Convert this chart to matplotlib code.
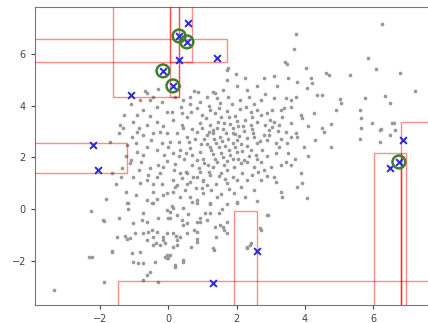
import numpy as np
import matplotlib
matplotlib.use("Agg")
import matplotlib.pyplot as plt
from matplotlib.patches import Rectangle

# gray sample points (x, y)
points = [
    (6.25, 7.16), (3.73, 6.77), (3.68, 6.19), (5.84, 5.84), (6.08, 5.42), (6.78, 5.26),
    (7.22, 4.56), (3.41, 5.69), (3.47, 5.61), (4.03, 5.45), (4.61, 5.26), (4.70, 5.18),
    (5.31, 5.18), (1.74, 5.45), (1.71, 4.99), (2.80, 5.07), (3.09, 5.14), (3.50, 5.07),
    (3.76, 4.91), (4.17, 5.07), (4.20, 4.87), (4.06, 4.68), (3.18, 4.76), (2.30, 4.60),
    (4.35, 4.41), (4.49, 4.41), (5.02, 4.26), (5.05, 4.10), (5.75, 4.29), (6.34, 4.37),
    (6.49, 4.10), (5.61, 3.83), (4.90, 3.83), (4.76, 3.29), (4.49, 3.13), (4.55, 2.98),
    (5.64, 3.52), (5.96, 3.33), (6.22, 3.09), (5.64, 3.13), (5.61, 2.71), (6.19, 2.59),
    (6.60, 3.33), (6.63, 3.06), (4.76, 2.40), (3.97, 2.40), (3.73, 2.94), (3.76, 2.79),
    (3.88, 3.64), (3.91, 3.52), (3.59, 3.95), (3.29, 3.83), (3.38, 3.91), (3.09, 4.29),
    (3.44, 4.29), (3.59, 4.22), (3.73, 4.33), (2.71, 4.22), (2.59, 3.83), (2.71, 3.64),
    (2.36, 4.33), (2.27, 3.95), (2.42, 3.75), (2.45, 3.56), (2.42, 3.25), (2.88, 3.71),
    (3.03, 3.83), (3.09, 3.37), (3.03, 3.17), (2.94, 3.06), (3.32, 3.56), (3.24, 3.25),
    (3.59, 3.33), (3.44, 2.98), (3.59, 2.79), (2.80, 2.86), (2.88, 2.67), (3.15, 2.55),
    (3.24, 2.40), (3.47, 2.55), (2.50, 2.79), (2.59, 2.55), (2.42, 2.28),
    (1.42, 1.82), (1.63, 1.70), (1.54, 1.39), (1.71, 1.51), (1.92, 1.62), (2.12, 1.78),
    (2.30, 1.82), (2.50, 1.62), (2.71, 1.82), (2.80, 1.51), (3.00, 1.62), (3.29, 1.70),
    (3.44, 1.82), (3.59, 1.70), (3.88, 1.39), (3.91, 1.01), (3.76, 0.85), (3.29, 0.66),
    (3.32, 0.46), (4.06, 0.43), (2.88, -0.23), (2.71, -0.81), (2.30, -1.47), (2.42, -1.32),
    (2.00, 0.27), (1.92, 0.62), (2.12, 0.85), (2.30, 1.12), (2.50, 0.74), (2.71, 1.12),
    (3.09, 1.24), (1.71, -0.50), (1.63, -0.81), (1.48, -0.15), (1.42, 0.46), (1.39, -1.08),
    (1.33, -1.59), (-1.92, -0.43), (-1.18, 0.23), (-1.04, -0.54), (-0.75, -0.15),
    (-0.45, 0.23), (-0.04, -0.04), (-0.01, -0.35), (0.10, 0.12), (0.42, 0.04), (0.83, 0.23),
    (1.22, 0.19), (1.57, 0.00), (1.71, 0.19), (0.83, -0.89), (1.13, -0.43), (1.36, -0.70),
    (1.51, -0.62), (1.60, -0.70), (1.71, -0.93), (1.30, -1.51), (2.00, 0.23), (2.91, -0.23),
    (2.68, -0.74), (2.30, -1.51), (2.39, -1.39), (-1.51, -1.08), (-1.27, -1.04),
    (-1.21, -1.16), (-1.13, -1.12), (-0.98, -0.93), (-0.75, -0.93), (-0.60, -0.89),
    (-1.65, -1.66), (-1.07, -1.70), (-0.83, -1.66), (-0.89, -2.09), (-1.04, -2.05),
    (-0.75, -2.09), (-0.40, -2.05), (-0.45, -1.08), (-0.16, -1.08), (-0.10, -1.32),
    (-0.25, -1.39), (-0.04, -1.90), (0.04, -1.78), (0.19, -2.17), (0.42, -2.05),
    (0.25, -1.20), (0.54, -0.93), (0.92, -0.50), (0.83, -1.28), (-0.75, -2.75),
    (-0.31, -2.82), (-0.54, -2.44), (-0.63, -2.55), (-3.35, -3.13), (-2.27, -0.08),
    (-1.89, -0.46), (-1.83, 0.39), (-2.33, -1.86), (-2.24, -1.86), (-1.89, -2.82),
    (-1.65, -1.62), (-1.24, 0.66), (-1.21, 0.23), (-1.04, 1.24), (-0.83, 1.01),
    (-0.63, 1.12), (-0.60, 1.32), (-0.34, 1.24), (-0.25, 1.39), (0.13, 1.12), (0.25, 0.93),
    (0.40, 1.20), (0.54, 1.39), (0.63, 1.04), (0.83, 1.24), (0.92, 1.43), (1.01, 1.12),
    (1.13, 0.93), (1.22, 1.32), (-0.63, 0.35), (-0.48, 0.23), (-0.34, 0.39), (-0.45, 0.66),
    (-0.16, 0.54), (-0.04, 0.62), (0.13, 0.66), (0.34, 0.46), (0.48, 0.74), (0.63, 0.46),
    (0.69, 0.27), (0.83, 0.35), (1.01, 0.62), (1.22, 0.23), (0.04, -0.12), (0.13, 0.04),
    (0.04, -0.35), (0.25, -0.23), (0.40, -0.43), (0.83, -0.50), (0.92, -0.35), (1.07, -0.15),
    (1.22, -0.15), (0.42, -0.62), (0.54, -0.54), (-0.04, -0.93), (0.13, -0.93),
    (0.22, -1.04), (-0.16, -1.20), (-0.48, -0.81), (-0.34, -0.89), (-0.63, -1.20),
    (0.34, -1.08), (0.75, -0.81), (0.83, -1.16), (-0.45, -1.39), (-0.37, -1.32),
    (-0.10, -1.86), (-0.04, -1.78), (-0.01, -1.90), (0.13, -1.47), (0.25, -1.39),
    (0.42, -1.97), (0.19, -2.24), (-0.78, -0.43),
    (-0.83, 4.22), (-0.54, 4.22), (-0.45, 4.33), (-0.75, 3.83), (-0.34, 3.95),
    (-0.04, 3.75), (0.42, 4.22), (0.63, 4.33), (0.92, 4.14), (1.13, 4.33), (1.30, 4.53),
    (0.83, 3.91), (1.22, 3.83), (0.40, 3.71), (-0.92, 3.64), (-1.42, 3.25), (-1.33, 3.13),
    (-1.04, 3.37), (-0.63, 3.25), (-0.34, 3.37), (0.13, 3.44), (0.54, 3.56), (0.40, 3.25),
    (0.42, 3.13), (0.92, 3.33), (1.22, 3.25), (-1.07, 2.79), (-0.92, 2.98), (-0.75, 2.86),
    (-0.45, 2.94), (-0.25, 2.98), (-0.04, 2.94), (0.25, 2.94), (0.54, 2.79), (0.83, 2.98),
    (1.13, 2.86), (1.30, 2.94), (-0.63, 2.40), (-0.92, 2.21), (-0.75, 2.09), (-0.34, 2.28),
    (-0.01, 2.40), (0.34, 2.28), (0.63, 2.36), (0.92, 2.21), (1.22, 2.40), (-1.71, 2.59),
    (1.35, 3.70), (1.55, 3.55), (1.70, 3.80), (1.95, 3.60), (2.10, 3.85), (1.45, 3.35),
    (1.80, 3.30), (2.05, 3.20), (2.25, 3.45), (1.60, 3.10), (1.30, 3.05), (1.90, 2.95),
    (2.20, 3.00), (1.50, 2.80), (1.75, 2.70), (2.00, 2.65), (2.30, 2.75), (1.40, 2.55),
    (1.65, 2.45), (1.95, 2.40), (2.15, 2.25), (1.25, 2.30), (1.55, 2.15), (1.80, 2.10),
    (2.05, 1.95), (2.35, 2.05), (1.35, 1.95), (1.70, 1.85), (1.00, 1.95), (1.15, 1.70),
    (1.95, 2.90), (2.45, 3.10), (2.60, 3.35), (1.05, 2.70), (0.95, 2.50), (1.10, 3.50),
    (1.20, 4.00), (1.50, 4.10), (1.85, 4.05), (2.10, 4.20), (0.70, 3.10), (0.60, 2.60),
    (0.45, 1.95), (0.70, 1.70), (0.50, 1.45), (0.20, 1.75), (-0.05, 1.85), (-0.30, 1.70),
    (-0.55, 1.60), (-0.85, 1.50), (0.85, 1.90), (1.20, 1.45), (1.00, 1.10), (0.80, 0.80),
    (1.40, 0.95), (1.65, 1.15), (1.90, 1.25), (2.15, 1.40), (2.30, 2.45), (2.55, 2.10),
    (2.75, 2.30), (2.90, 2.05), (3.15, 2.15), (2.60, 1.95), (0.30, 2.60), (0.05, 2.60),
    (-0.20, 2.55), (-0.50, 2.65), (-0.15, 3.20), (0.10, 3.75), (0.65, 3.75), (0.75, 4.55),
    (0.30, 4.75), (1.60, 4.60), (2.00, 4.75), (-0.30, 4.65), (-0.70, 4.55), (-1.10, 4.05),
    (-1.30, 3.65), (-1.45, 2.95), (-1.10, 1.90), (-0.95, 0.55), (-1.40, 1.25), (-1.55, 0.95),
    (-1.22, 2.48), (-1.65, 1.39), (-1.13, 1.78), (-0.63, 4.49), (0.86, 4.53), (1.36, 4.49),
    (1.71, 5.38), (6.19, 3.06), (6.54, 3.33), (6.49, 2.86),
    # denser core
    (1.48, 3.90), (1.78, 3.55), (2.02, 3.42), (1.62, 3.32), (1.88, 3.12), (2.18, 3.22),
    (1.42, 3.12), (1.68, 2.92), (2.08, 2.82), (1.32, 2.72), (1.58, 2.62), (1.88, 2.55),
    (2.12, 2.50), (1.48, 2.38), (1.78, 2.30), (2.02, 2.20), (1.30, 2.12), (1.60, 2.00),
    (1.88, 1.92), (2.20, 1.90), (1.12, 2.52), (1.18, 2.98), (0.98, 3.12), (0.78, 2.72),
    (0.68, 2.08), (0.32, 2.05), (0.12, 2.18), (-0.12, 2.08), (0.52, 2.18), (0.88, 1.58),
    (1.05, 1.78), (1.30, 1.62), (0.35, 1.38), (0.15, 1.52), (-0.15, 1.62), (0.72, 1.25),
    (1.48, 1.28), (1.72, 1.02), (2.00, 1.12), (0.55, 0.98), (0.20, 0.85), (-0.18, 0.95),
    (-0.45, 0.95), (0.98, 0.82), (1.25, 0.72), (1.55, 0.58), (1.78, 0.78), (0.38, 3.95),
    (0.62, 4.05), (-0.18, 4.15), (0.20, 4.35), (0.98, 3.62), (1.42, 4.28), (1.75, 4.35),
    (2.50, 4.05), (2.82, 4.45), (2.60, 4.75), (2.25, 5.05), (1.98, 5.22), (2.48, 2.92),
    (2.68, 2.62), (2.95, 2.85), (3.30, 2.70), (2.98, 3.45), (3.22, 3.02), (2.82, 3.25),
    (2.62, 1.42), (2.88, 1.28), (3.15, 1.05), (2.45, 1.30), (2.25, 0.45), (2.60, 0.30),
    (3.50, 2.15), (3.70, 1.95), (4.10, 2.05), (4.30, 2.65), (4.10, 3.20), (4.25, 3.70),
    (-0.95, 2.55), (-1.25, 2.05), (-0.80, 1.80), (-1.35, 1.60), (-0.55, 3.60), (-0.85, 3.15),
    (-1.20, 0.00), (-1.45, -0.35), (-0.30, -0.35), (-0.62, -0.50), (0.58, -0.20), (0.65, -1.45),
]

# detected outliers (blue x)
outliers = [
    (0.57, 7.20), (0.31, 5.76), (1.42, 5.84), (-1.10, 4.41), (-2.21, 2.48), (-2.06, 1.51),
    (6.87, 2.67), (6.49, 1.59), (1.30, -2.86), (2.59, -1.62),
    (0.31, 6.69), (0.54, 6.46), (-0.16, 5.34), (0.13, 4.76), (6.75, 1.82),
]

# strongest outliers (green circles)
top_outliers = [(0.31, 6.69), (0.54, 6.46), (-0.16, 5.34), (0.13, 4.76), (6.75, 1.82)]

# empty boxes: x0, x1, y0, y1
boxes = [
    (-10, 1.71, 5.69, 6.58),
    (-1.63, 0.31, 4.33, 20),
    (0.04, 0.69, 5.69, 20),
    (0.04, 0.31, 4.33, 20),
    (-10, -1.22, 1.39, 2.55),
    (-1.48, 20, -10, -2.79),
    (1.92, 2.59, -10, -0.08),
    (6.02, 6.81, -10, 2.17),
    (6.81, 20, -10, 3.37),
    (6.81, 6.95, -10, 2.17),
]

fig = plt.figure(figsize=(4.28, 3.23), dpi=100)
ax = fig.add_axes([35 / 428, 18 / 323, 425 / 428, 298 / 323])

px, py = zip(*points)
ox, oy = zip(*outliers)
tx, ty = zip(*top_outliers)

ax.scatter(px, py, s=7, color='#999999', linewidths=0, zorder=2)
ax.scatter(ox, oy, s=7, color='#b0b0b0', linewidths=0, zorder=2)

for x0, x1, y0, y1 in boxes:
    ax.add_patch(Rectangle((x0, y0), x1 - x0, y1 - y0, fill=False,
                           edgecolor='red', alpha=0.45, lw=1.0, zorder=3))

ax.scatter(ox, oy, marker='x', s=24, color='#2a2ad8', linewidths=1.4, zorder=4)
ax.scatter(tx, ty, s=85, facecolors='none', edgecolors='#3f7f2a', linewidths=1.8, zorder=5)

ax.set_xlim(-3.91, 8.54)
ax.set_ylim(-3.71, 7.81)
ax.set_xticks([-2, 0, 2, 4, 6])
ax.set_yticks([-2, 0, 2, 4, 6])
ax.tick_params(labelsize=7, length=3, colors='#444444')
for s in ax.spines.values():
    s.set_color('#777777')

fig.savefig('out.png', dpi=100)
